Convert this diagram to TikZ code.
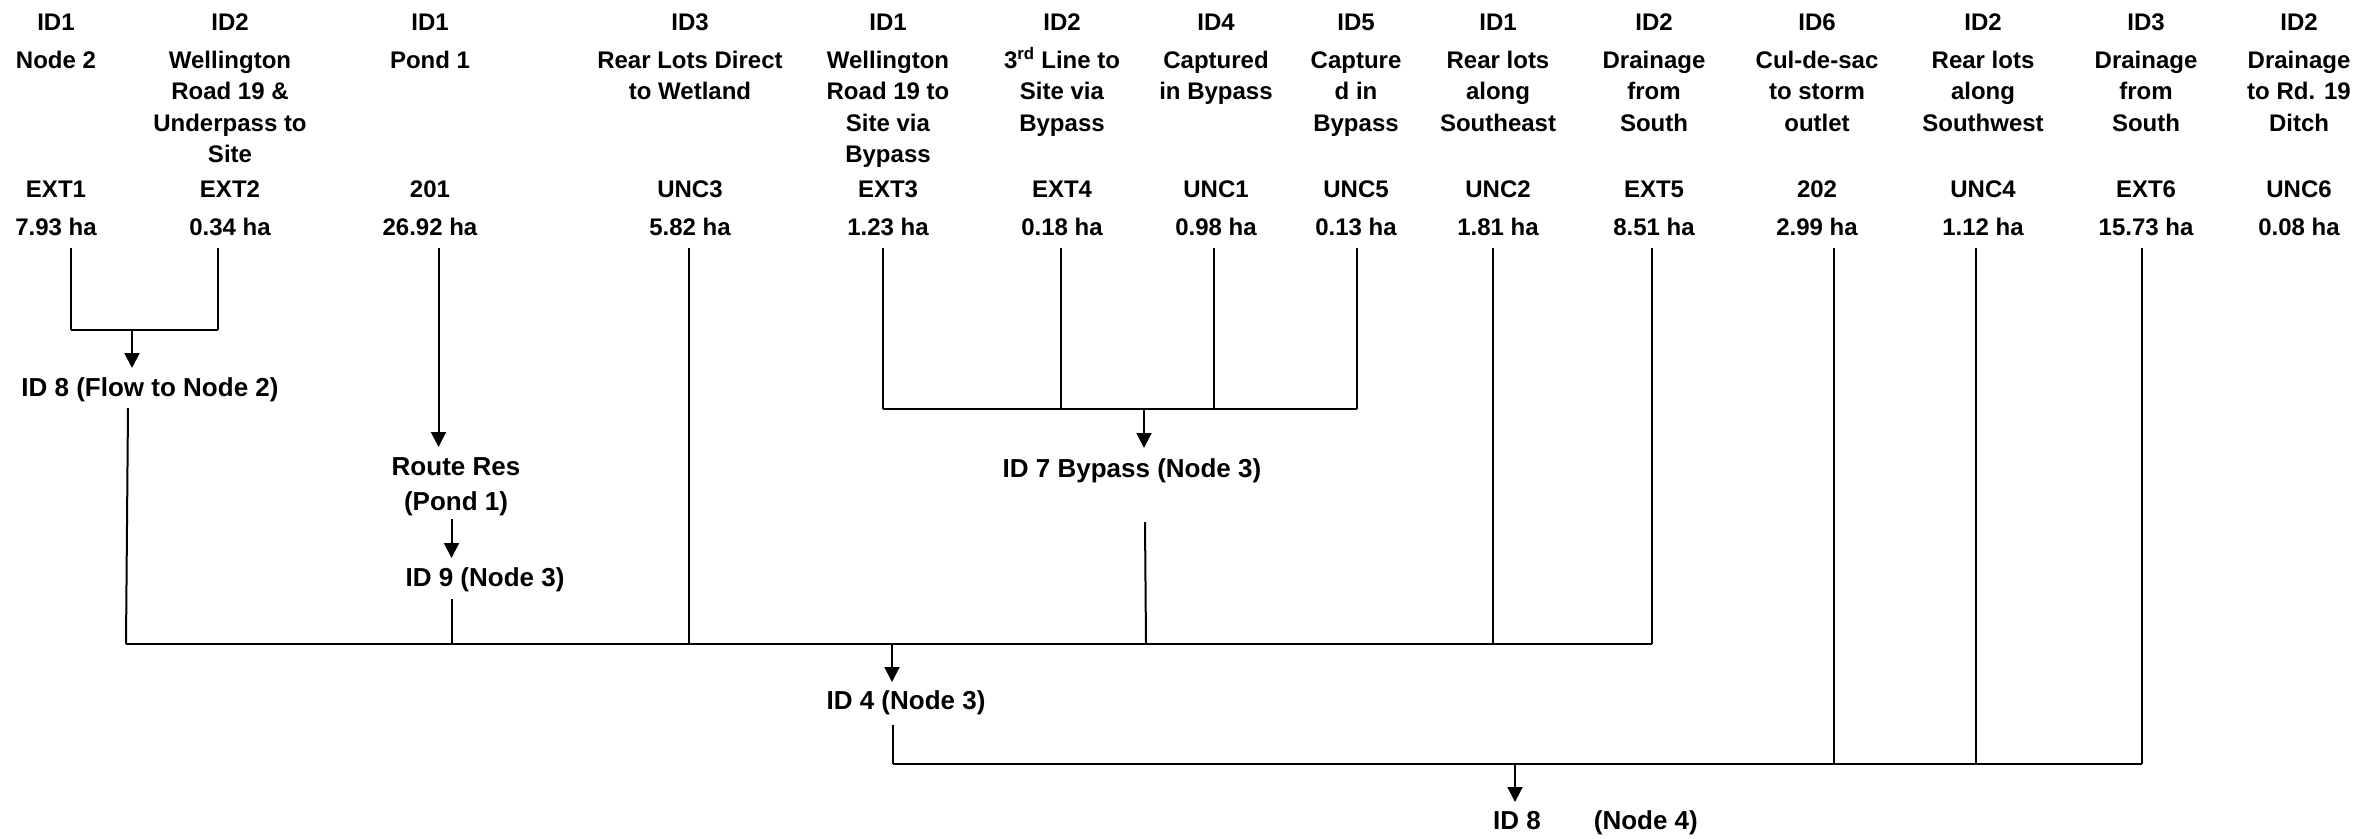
\documentclass[tikz,border=0pt]{standalone}
\usepackage{fontspec}
\setmainfont{Liberation Sans}
\usetikzlibrary{arrows.meta}
\newcommand{\drcol}[6]{%
  \node[coltext] (id#1) at (#2,30) {#3};
  \node[desc] (ds#1) at (#2,45.95) {\strut #4};
  \node[coltext] (cd#1) at (#2,197) {#5};
  \node[coltext] (ar#1) at (#2,235) {#6};
}
\begin{document}
\begin{tikzpicture}[x=1pt,y=-1pt,
  coltext/.style={font=\fontsize{24}{31.5}\selectfont\bfseries, inner sep=0pt, anchor=base, align=center},
  desc/.style={font=\fontsize{24}{31.5}\selectfont\bfseries, inner sep=0pt, anchor=north, align=center},
  lbl/.style={font=\fontsize{26}{35}\selectfont\bfseries, inner sep=0pt, anchor=base, align=center},
  vline/.style={line width=2pt},
  hline/.style={line width=2.5pt},
  flow/.style={line width=2pt, -{Triangle[length=15pt,width=15pt]}},
]
\useasboundingbox (0,0) rectangle (2368,838);
\fill[white] (0,0) rectangle (2368,838);

% columns
\drcol{1}{56}{ID1}{Node 2}{EXT1}{7.93 ha}
\drcol{2}{230}{ID2}{Wellington\\Road 19 \&\\Underpass to\\Site}{EXT2}{0.34 ha}
\drcol{3}{430}{ID1}{Pond 1}{201}{26.92 ha}
\drcol{4}{690}{ID3}{Rear Lots Direct\\to Wetland}{UNC3}{5.82 ha}
\drcol{5}{888}{ID1}{Wellington\\Road 19 to\\Site via\\Bypass}{EXT3}{1.23 ha}
\drcol{6}{1062}{ID2}{3\textsuperscript{rd} Line to\\Site via\\Bypass}{EXT4}{0.18 ha}
\drcol{7}{1216}{ID4}{Captured\\in Bypass}{UNC1}{0.98 ha}
\drcol{8}{1356}{ID5}{Capture\\d in\\Bypass}{UNC5}{0.13 ha}
\drcol{9}{1498}{ID1}{Rear lots\\along\\Southeast}{UNC2}{1.81 ha}
\drcol{10}{1654}{ID2}{Drainage\\from\\South}{EXT5}{8.51 ha}
\drcol{11}{1817}{ID6}{Cul-de-sac\\to storm\\outlet}{202}{2.99 ha}
\drcol{12}{1983}{ID2}{Rear lots\\along\\Southwest}{UNC4}{1.12 ha}
\drcol{13}{2146}{ID3}{Drainage\\from\\South}{EXT6}{15.73 ha}
\drcol{14}{2299}{ID2}{Drainage\\to Rd. 19\\Ditch}{UNC6}{0.08 ha}

% labels
\node[lbl] (idEight) at (150,396) {ID 8 (Flow to Node 2)};
\node[lbl, anchor=north] (route) at (456,451.1) {\strut Route Res\\(Pond 1)};
\node[lbl] (idNine) at (485,586.6) {ID 9 (Node 3)};
\node[lbl] (idSeven) at (1132,477) {ID 7 Bypass (Node 3)};
\node[lbl] (idFour) at (906,709) {ID 4 (Node 3)};
\node[lbl] (idEightB) at (1595.5,829) {ID 8\hspace{53pt}(Node 4)};

% column line tops
\coordinate (t1) at (71,248);
\coordinate (t2) at (218,248);
\coordinate (t3) at (438.5,248);
\coordinate (t4) at (689,248);
\coordinate (t5) at (883,248);
\coordinate (t6) at (1061,248);
\coordinate (t7) at (1214,248);
\coordinate (t8) at (1357,248);
\coordinate (t9) at (1493,248);
\coordinate (t10) at (1652,248);
\coordinate (t11) at (1834,248);
\coordinate (t12) at (1976,248);
\coordinate (t13) at (2142,248);

% group to ID 8 (Flow to Node 2)
\coordinate (a1) at (71,330);
\coordinate (a2) at (218,330);
\coordinate (am) at (132,330);
\coordinate (atip) at (132,368);
\draw[vline] (t1) -- (a1);
\draw[vline] (t2) -- (a2);
\draw[hline] (a1) -- (a2);
\draw[flow] (am) -- (atip);

% pond
\coordinate (ptip) at (438.5,447);
\draw[flow] (t3) -- (ptip);
\coordinate (p2s) at (451.5,519);
\coordinate (p2t) at (451.5,558);
\draw[flow] (p2s) -- (p2t);

% bypass
\coordinate (b5) at (883,409);
\coordinate (b6) at (1061,409);
\coordinate (b7) at (1214,409);
\coordinate (b8) at (1357,409);
\coordinate (bm) at (1144,409);
\coordinate (btip) at (1144,448);
\draw[vline] (t5) -- (b5);
\draw[vline] (t6) -- (b6);
\draw[vline] (t7) -- (b7);
\draw[vline] (t8) -- (b8);
\draw[hline] (b5) -- (b8);
\draw[flow] (bm) -- (btip);

% main collector to ID 4
\coordinate (m0) at (126,644);
\coordinate (m1) at (451.5,644);
\coordinate (m2) at (689,644);
\coordinate (m3) at (1146,644);
\coordinate (m4) at (1493,644);
\coordinate (m5) at (1652,644);
\coordinate (mm) at (892,644);
\coordinate (mtip) at (892,682);
\coordinate (e8s) at (128,408);
\coordinate (n9s) at (451.5,599);
\coordinate (b7s) at (1145,522);
\draw[vline] (e8s) -- (m0);
\draw[vline] (n9s) -- (m1);
\draw[vline] (t4) -- (m2);
\draw[vline] (b7s) -- (m3);
\draw[vline] (t9) -- (m4);
\draw[vline] (t10) -- (m5);
\draw[hline] (m0) -- (m5);
\draw[flow] (mm) -- (mtip);

% bottom collector to ID 8 (Node 4)
\coordinate (f4s) at (893,725);
\coordinate (q0) at (893,764);
\coordinate (q1) at (1834,764);
\coordinate (q2) at (1976,764);
\coordinate (q3) at (2142,764);
\coordinate (qm) at (1515,764);
\coordinate (qtip) at (1515,802);
\draw[vline] (f4s) -- (q0);
\draw[vline] (t11) -- (q1);
\draw[vline] (t12) -- (q2);
\draw[vline] (t13) -- (q3);
\draw[hline] (q0) -- (q3);
\draw[flow] (qm) -- (qtip);
\end{tikzpicture}
\end{document}
